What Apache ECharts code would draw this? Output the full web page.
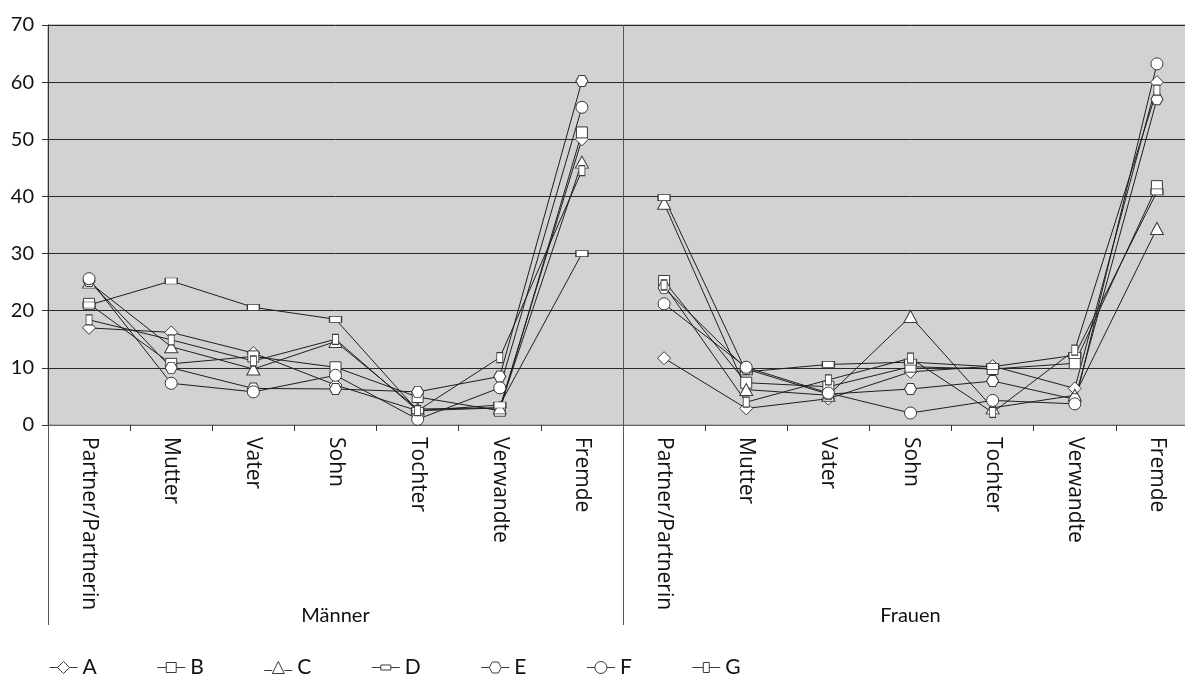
<!DOCTYPE html>
<html>
<head>
<meta charset="utf-8">
<script src="https://cdn.jsdelivr.net/npm/echarts@6/dist/echarts.min.js"></script>
<style>
html,body{margin:0;padding:0;background:#fff;overflow:hidden;}
#chart{width:1198px;height:688px;}
</style>
</head>
<body>
<div id="chart"></div>
<script>
const categories = ['Partner/Partnerin','Mutter','Vater','Sohn','Tochter','Verwandte','Fremde'];
const groups = ['Männer','Frauen'];
const seriesNames = ['A','B','C','D','E','F','G'];
const yTicks = [0,10,20,30,40,50,60,70];

// Männer values per series
const menA = [17.0, 16.2, 12.6, 7.0, 2.5, 3.0, 50.0];
const menB = [21.2, 10.7, 12.0, 10.1, 4.9, 2.5, 51.2];
const menC = [25.0, 13.7, 9.8, 14.6, 2.8, 3.0, 46.0];
const menD = [21.0, 25.2, 20.6, 18.5, 2.5, 3.5, 30.0];
const menE = [25.2, 10.0, 6.4, 6.3, 5.8, 8.5, 60.2];
const menF = [25.6, 7.3, 5.8, 8.7, 1.0, 6.5, 55.6];
const menG = [18.4, 14.9, 11.2, 15.0, 2.5, 11.8, 44.5];

// Frauen values per series
const womenA = [11.7, 2.9, 4.6, 9.3, 10.3, 6.4, 60.0];
const womenB = [25.2, 7.4, 6.7, 10.2, 9.8, 10.8, 41.8];
const womenC = [38.8, 6.2, 5.2, 19.0, 3.0, 5.2, 34.4];
const womenD = [39.8, 9.3, 10.6, 11.0, 10.2, 12.2, 40.8];
const womenE = [24.0, 9.8, 5.4, 6.3, 7.7, 4.5, 57.0];
const womenF = [21.2, 10.1, 5.6, 2.1, 4.3, 3.7, 63.2];
const womenG = [24.5, 4.0, 7.9, 11.7, 2.2, 13.1, 58.6];

const menData = [menA, menB, menC, menD, menE, menF, menG];
const womenData = [womenA, womenB, womenC, womenD, womenE, womenF, womenG];

const hexagon = 'path://M0,5 L2.6,0.5 L7.4,0.5 L10,5 L7.4,9.5 L2.6,9.5 Z';
const symbols = ['diamond','rect','triangle','rect',hexagon,'circle','rect'];
const symbolSizes = [[13,13],[11,11],[13,12],[12,6],[12,11],[12,12],[6,10]];

// legend icons: line stubs with the marker outline in the middle
const legendIcons = [
  'path://M0,6 L8,6 M8,6 L14,0 L20,6 L14,12 Z M20,6 L28,6',
  'path://M0,6 L9,6 M9,1 L19,1 L19,11 L9,11 Z M19,6 L28,6',
  'path://M0,9 L8,9 M8,12 L14,0 L20,12 Z M20,9 L28,9',
  'path://M0,6 L9,6 M9,3.5 L19,3.5 L19,8.5 L9,8.5 Z M19,6 L28,6 M14,0 L14,0 M14,12 L14,12',
  'path://M0,6 L8,6 M8,6 L11,0.5 L17,0.5 L20,6 L17,11.5 L11,11.5 Z M20,6 L28,6 M14,0 L14,0 M14,12 L14,12',
  'path://M0,6 L8,6 M8,6 A6,6 0 1,1 20,6 A6,6 0 1,1 8,6 Z M20,6 L28,6',
  'path://M0,6 L11,6 M11,1 L17,1 L17,11 L11,11 Z M17,6 L28,6 M14,0 L14,0 M14,12 L14,12'
];

const xData = categories.concat(categories);
const nulls = categories.map(() => null);

const series = [];
seriesNames.forEach((name, i) => {
  const common = {
    name: name,
    type: 'line',
    symbol: symbols[i],
    symbolSize: symbolSizes[i],
    showAllSymbol: true,
    connectNulls: false,
    lineStyle: {color: '#1e1e1e', width: 1},
    itemStyle: {color: '#ffffff', borderColor: '#3a3a3a', borderWidth: 1},
    emphasis: {disabled: true},
    animation: false
  };
  series.push(Object.assign({}, common, {data: menData[i].concat(nulls)}));
  series.push(Object.assign({}, common, {data: nulls.concat(womenData[i])}));
});

const font = 'Lato, "Open Sans", sans-serif';
const labelFont = '"Open Sans", Lato, sans-serif';
const chart = echarts.init(document.getElementById('chart'));
chart.setOption({
  animation: false,
  backgroundColor: '#ffffff',
  textStyle: {fontFamily: font},
  grid: {
    left: 48, right: 0, top: 25, bottom: 263,
    show: true, backgroundColor: '#d1d2d4', borderColor: '#8a8a8a', borderWidth: 1
  },
  legend: {
    data: seriesNames.map((n, i) => ({name: n, icon: legendIcons[i]})),
    left: 44, top: 652,
    itemWidth: 28, itemHeight: 12, itemGap: 60,
    itemStyle: {color: '#ffffff', borderColor: '#3a3a3a', borderWidth: 1},
    textStyle: {fontSize: 21, color: '#111', fontFamily: font}
  },
  xAxis: [
    {
      type: 'category', data: xData, boundaryGap: true, position: 'bottom',
      axisLine: {show: true, lineStyle: {color: '#666', width: 1}},
      axisTick: {show: true, length: 6, lineStyle: {color: '#333'}},
      axisLabel: {interval: 0, rotate: -90, fontSize: 21, color: '#111', margin: 12, fontFamily: labelFont},
      splitLine: {show: false}
    },
    {
      type: 'category', data: groups, boundaryGap: true, position: 'bottom',
      axisLine: {show: false},
      axisTick: {show: true, length: 200, lineStyle: {color: '#555', width: 1}},
      axisLabel: {fontSize: 20, color: '#111', margin: 181, fontFamily: font},
      splitLine: {show: true, lineStyle: {color: '#555', width: 1}}
    }
  ],
  yAxis: {
    type: 'value', min: 0, max: 70, interval: 10,
    axisLine: {show: true, lineStyle: {color: '#333'}},
    axisTick: {show: true, length: 6, lineStyle: {color: '#333'}},
    axisLabel: {fontSize: 20, color: '#111', margin: 14, fontFamily: font,
      formatter: v => yTicks.indexOf(v) >= 0 ? String(v) : ''},
    splitLine: {show: true, lineStyle: {color: '#2a2a2a', width: 1}}
  },
  series: series
});
</script>
</body>
</html>
